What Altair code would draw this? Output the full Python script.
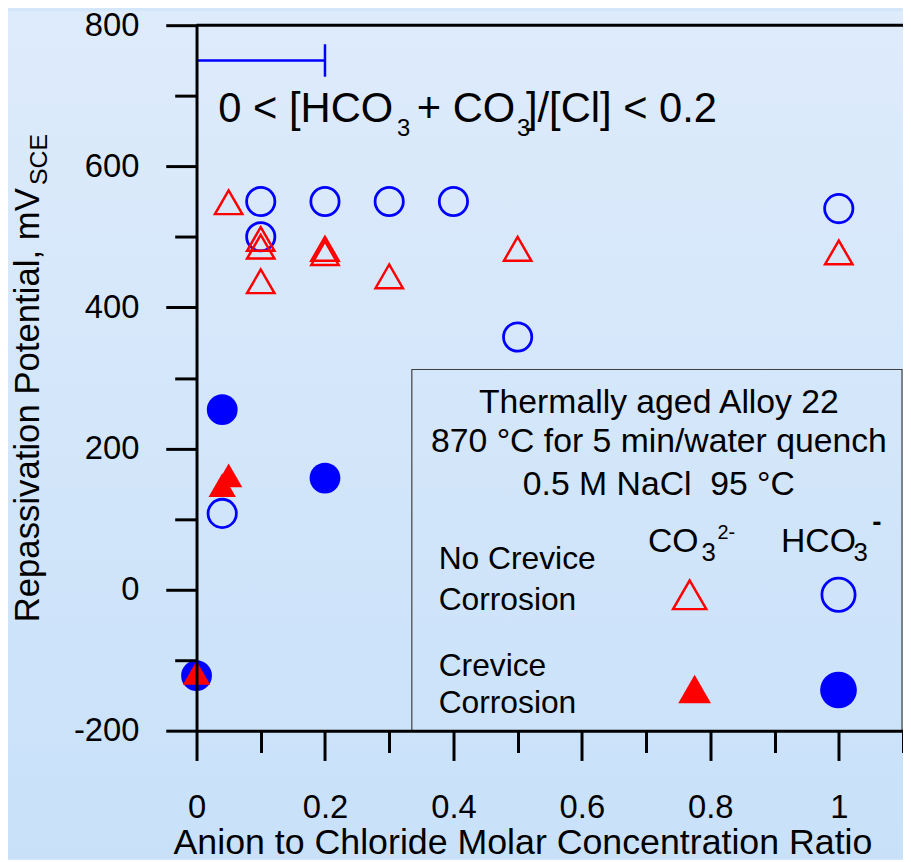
import altair as alt
import pandas as pd

FONT = "Liberation Sans"
RED = "#ff0000"
BLUE = "#0000ff"

# ---- data ----
hco3_open_ratio = [0.04, 0.1, 0.1, 0.2, 0.3, 0.4, 0.5, 1.0]
hco3_open_pot = [108, 550, 500, 550, 550, 550, 358, 540]
hco3_crev_ratio = [0.0, 0.04, 0.2]
hco3_crev_pot = [-122, 255, 158]
co3_open_ratio = [0.05, 0.1, 0.1, 0.1, 0.2, 0.2, 0.3, 0.5, 1.0]
co3_open_pot = [549, 497, 486, 437, 483, 477, 444, 483, 478]
co3_crev_ratio = [0.0, 0.04, 0.05]
co3_crev_pot = [-118, 148, 162]

range_ratio = [0.0, 0.2]
range_pot = [750]
range_cap = [727, 773]

x_major = [0, 0.2, 0.4, 0.6, 0.8, 1.0]
x_minor = [0.1, 0.3, 0.5, 0.7, 0.9, 1.1]
y_major = [-200, 0, 200, 400, 600, 800]
y_minor = [-100, 100, 300, 500, 700]
x_domain = [0, 1.1]
y_domain = [-200, 800]

W, H = 712, 711

xscale = alt.Scale(domain=x_domain, nice=False, zero=False)
yscale = alt.Scale(domain=y_domain, nice=False, zero=False)

common_axis = dict(grid=False, title=None, domainColor="black", domainWidth=3,
                   tickColor="black", tickWidth=3, labelFont=FONT, labelFontSize=33,
                   labelColor="black", labelFlush=False, labelOverlap=False, zindex=1)

x_axis_major = alt.Axis(orient="bottom", values=x_major, tickSize=30, labelPadding=31,
                        labelExpr="'' + datum.value", **common_axis)
y_axis_major = alt.Axis(orient="left", values=y_major, tickSize=31, labelPadding=27,
                        labelExpr="'' + datum.value", **common_axis)
x_axis_minor = alt.Axis(orient="bottom", values=x_minor, tickSize=22, labels=False,
                        domain=False, tickColor="black", tickWidth=3, grid=False,
                        title=None, zindex=1)
y_axis_minor = alt.Axis(orient="left", values=y_minor, tickSize=22, labels=False,
                        domain=False, tickColor="black", tickWidth=3, grid=False,
                        title=None, zindex=1)

one = pd.DataFrame({"k": [0]})


def txt(s, x, y, size, align="left", angle=0, baseline="alphabetic", weight="normal"):
    return alt.Chart(one).mark_text(
        text=s, font=FONT, fontSize=size, align=align, baseline=baseline,
        angle=angle, color="black", fontWeight=weight
    ).encode(x=alt.value(x), y=alt.value(y))


def pts(xs, ys, shape, color, filled, size, xaxis=None, yaxis=None, sw=2.5):
    df = pd.DataFrame({"ratio": xs, "pot": ys})
    if filled:
        m = alt.Chart(df).mark_point(shape=shape, filled=True, fill=color, stroke=None,
                                     size=size, opacity=1)
    else:
        m = alt.Chart(df).mark_point(shape=shape, filled=False, stroke=color,
                                     strokeWidth=sw, size=size, opacity=1)
    return m.encode(
        x=alt.X("ratio:Q", scale=xscale, axis=xaxis),
        y=alt.Y("pot:Q", scale=yscale, axis=yaxis),
    )


def legend_pt(shape, color, filled, size, x, y, sw=2.5):
    if filled:
        m = alt.Chart(one).mark_point(shape=shape, filled=True, fill=color, stroke=None,
                                      size=size, opacity=1)
    else:
        m = alt.Chart(one).mark_point(shape=shape, filled=False, stroke=color,
                                      strokeWidth=sw, size=size, opacity=1)
    return m.encode(x=alt.value(x), y=alt.value(y))


bg = alt.Chart(one).mark_rect(
    fill=alt.Gradient(gradient="linear",
                      stops=[alt.GradientStop(color="#deebfb", offset=0),
                             alt.GradientStop(color="#c8e1f9", offset=1)],
                      x1=0, x2=0, y1=0, y2=1)
).encode(x=alt.value(-190), x2=alt.value(W), y=alt.value(-14), y2=alt.value(840))

frame_top = alt.Chart(one).mark_rule(color="black", strokeWidth=3).encode(
    x=alt.value(0), x2=alt.value(W), y=alt.value(0))

legend_box = alt.Chart(one).mark_rect(fill="white", fillOpacity=0, stroke="#404040",
                                      strokeWidth=1.2).encode(
    x=alt.value(217), x2=alt.value(711), y=alt.value(347), y2=alt.value(711))

range_df = pd.DataFrame({"lo": [range_ratio[0]], "hi": [range_ratio[1]], "pot": range_pot})
range_line = alt.Chart(range_df).mark_rule(color=BLUE, strokeWidth=2.5).encode(
    x=alt.X("lo:Q", scale=xscale, axis=x_axis_minor),
    x2="hi:Q",
    y=alt.Y("pot:Q", scale=yscale, axis=y_axis_minor),
)
cap_df = pd.DataFrame({"ratio": [range_ratio[1]], "lo": [range_cap[0]], "hi": [range_cap[1]]})
range_cap_rule = alt.Chart(cap_df).mark_rule(color=BLUE, strokeWidth=2.5).encode(
    x=alt.X("ratio:Q", scale=xscale, axis=None),
    y=alt.Y("lo:Q", scale=yscale, axis=None),
    y2="hi:Q",
)

layers = [
    bg,
    legend_box,
    frame_top,
    range_line,
    range_cap_rule,
    pts(hco3_open_ratio, hco3_open_pot, "circle", BLUE, False, 812, x_axis_major, y_axis_major, sw=2.8),
    pts(hco3_crev_ratio, hco3_crev_pot, "circle", BLUE, True, 961),
    pts(co3_open_ratio, co3_open_pot, "triangle-up", RED, False, 760),
    pts(co3_crev_ratio, co3_crev_pot, "triangle-up", RED, True, 760),
    # legend symbols
    legend_pt("triangle-up", RED, False, 1120, 497, 574),
    legend_pt("circle", BLUE, False, 1120, 647, 574, sw=2.8),
    legend_pt("triangle-up", RED, True, 1089, 502, 669),
    legend_pt("circle", BLUE, True, 1369, 647, 670),
    # annotation
    txt("0 < [HCO", 22, 98, 42),
    txt("3", 202, 112, 24),
    txt("+ CO", 222, 98, 42),
    txt("3", 323, 112, 24),
    txt("]/[Cl] < 0.2", 332, 98, 42),
    # legend text
    txt("Thermally aged Alloy 22", 466, 391, 34, align="center"),
    txt("870 \u00b0C for 5 min/water quench", 466, 430, 34, align="center"),
    txt("0.5 M NaCl\u00a0\u00a095 \u00b0C", 466, 473, 34, align="center"),
    txt("No Crevice", 244, 548, 32),
    txt("Corrosion", 244, 589, 32),
    txt("Crevice", 244, 656, 32),
    txt("Corrosion", 244, 693, 32),
    txt("CO", 455, 531, 34),
    txt("3", 509, 540, 26),
    txt("2-", 525, 518, 20),
    txt("HCO", 589, 531, 34),
    txt("3", 662, 540, 26),
    txt("-", 681, 510, 28, weight="bold"),
    # axis titles
    txt("Anion to Chloride Molar Concentration Ratio", 329, 835, 36, align="center"),
    txt("Repassivation Potential, mV", -159, 383, 35, align="center", angle=270),
    txt("SCE", -151, 161, 25, align="left", angle=270),
]

chart = alt.layer(*layers).resolve_axis(x="independent", y="independent").properties(
    width=W, height=H,
    autosize=alt.AutoSizeParams(type="none"),
    padding={"left": 190, "top": 14, "right": 0, "bottom": 127},
).configure_view(stroke=None).configure(background="#d4e6fa")

chart.save("out.html", embed_options={"renderer": "svg", "actions": False})
